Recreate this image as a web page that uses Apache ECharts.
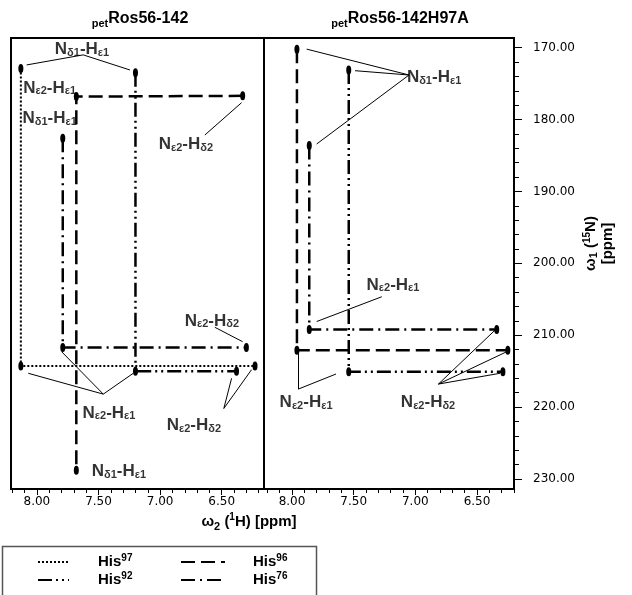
<!DOCTYPE html>
<html>
<head>
<meta charset="utf-8">
<script src="https://cdn.jsdelivr.net/npm/echarts@6/dist/echarts.min.js"></script>
<style>
html,body{margin:0;padding:0;background:#fff;}
#chart{width:632px;height:595px;}
</style>
</head>
<body>
<div id="chart"></div>
<script>
// cross peaks, [w2 (1H), w1 (15N)], in the order they are joined
const his97Left = [[8.13,172.9],[8.13,214.3],[6.23,214.3]]
const his96Left = [[6.33,176.7],[7.68,176.8],[7.68,228.8]]
const his92Left = [[7.20,173.5],[7.20,215.0],[6.38,215.0]]
const his76Left = [[7.79,182.6],[7.79,211.7],[6.30,211.7]]
const his96Right = [[7.96,170.2],[7.96,212.1],[6.25,212.1]]
const his92Right = [[7.54,173.1],[7.54,215.1],[6.29,215.1]]
const his76Right = [[7.86,183.6],[7.86,209.2],[6.34,209.2]]

// tick labels
const xMajorTicks = [8.0,7.5,7.0,6.5]
const xMinorTicks = [8.2,8.1,7.9,7.8,7.7,7.6,7.4,7.3,7.2,7.1,6.9,6.8,6.7,6.6,6.4,6.3,6.2]
const yMajorTicks = [170,180,190,200,210,220,230]
const yMinorTicks = [172,174,176,178,182,184,186,188,192,194,196,198,202,204,206,208,212,214,216,218,222,224,226,228]

// peak assignments
const leftNotes = [
	[7.634,170.2,'Nδ1-Hε1'],
	[7.896,175.6,'Nε2-Hε1'],
	[7.896,179.8,'Nδ1-Hε1'],
	[6.791,183.5,'Nε2-Hδ2'],
	[6.58,208.0,'Nε2-Hδ2'],
	[7.415,220.8,'Nε2-Hε1'],
	[6.726,222.6,'Nε2-Hδ2'],
	[7.334,229.0,'Nδ1-Hε1']
]
const leftLeaders = [
	[[7.624,171.0],[8.083,172.4]],
	[[7.624,171.0],[7.245,173.1]],
	[[6.637,182.15],[6.339,177.65]],
	[[6.556,208.9],[6.331,210.9]],
	[[7.461,218.2],[8.07,215.3]],
	[[7.461,218.2],[7.799,212.3]],
	[[7.461,218.2],[7.218,215.3]],
	[[6.483,220.2],[6.42,216.0]],
	[[6.483,220.2],[6.258,214.8]]
]
const rightNotes = [
	[6.848,174.1,'Nδ1-Hε1'],
	[7.181,203.0,'Nε2-Hε1'],
	[7.886,219.3,'Nε2-Hε1'],
	[6.897,219.3,'Nε2-Hδ2']
]
const rightLeaders = [
	[[7.051,173.8],[7.881,170.2]],
	[[7.051,173.8],[7.489,173.2]],
	[[7.051,173.8],[7.80,183.4]],
	[[7.272,204.65],[7.80,208.1]],
	[[7.949,217.5],[7.949,212.5]],
	[[7.949,217.5],[7.643,215.4]],
	[[6.813,216.8],[6.354,209.3]],
	[[6.813,216.8],[6.259,212.3]],
	[[6.813,216.8],[6.313,215.3]]
]

const dash = {
	His97:[2,2],
	His96:[14,6],
	His92:[14,4,2,4,2,4],
	His76:[14,5,2,5]
}

const font = 'Liberation Sans'
const subRich = {
	s:{fontSize:11,fontWeight:'bold',fontFamily:font,color:'#000',verticalAlign:'bottom',lineHeight:8},
	p:{fontSize:10,fontWeight:'bold',fontFamily:font,color:'#000',verticalAlign:'top',lineHeight:12}
}

function toRich(txt){
	return txt.replace(/([δε]\d)/g,'{s|$1}')
}

function hisLine(name,data,xi,yi){
	return {
		type:'line',
		name:name,
		xAxisIndex:xi,
		yAxisIndex:yi,
		data:data,
		symbol:'circle',
		symbolSize:[5,9],
		itemStyle:{color:'#000'},
		lineStyle:{color:'#000',width:name == 'His97' ? 2 : 2.5,type:dash[name]},
		z:3
	}
}

function notes(data,xi,yi){
	return {
		type:'scatter',
		name:'notes' + xi,
		xAxisIndex:xi,
		yAxisIndex:yi,
		data:data,
		symbolSize:0,
		silent:true,
		label:{
			show:true,
			position:'inside',
			formatter:p => toRich(p.data[2]),
			fontSize:17,
			fontWeight:'bold',
			fontFamily:font,
			color:'#000',
			lineHeight:18,
			rich:subRich
		},
		z:4
	}
}

function leaders(data,xi,yi){
	return {
		type:'lines',
		coordinateSystem:'cartesian2d',
		xAxisIndex:xi,
		yAxisIndex:yi,
		data:data.map(c => ({coords:c})),
		lineStyle:{color:'#000',width:1,opacity:1},
		silent:true,
		z:2
	}
}

function xMain(grid,min,max){
	return {
		gridIndex:grid,
		type:'value',
		min:min,
		max:max,
		inverse:true,
		position:'bottom',
		axisLine:{show:true,lineStyle:{color:'#000',width:2}},
		axisTick:{show:true,length:6,customValues:xMajorTicks,lineStyle:{color:'#000',width:1}},
		axisLabel:{customValues:xMajorTicks,formatter:v => v.toFixed(2),margin:7,fontFamily:'DejaVu Sans',fontSize:12,color:'#000'},
		splitLine:{show:false}
	}
}
function xMinor(grid,min,max){
	return {
		gridIndex:grid,
		type:'value',
		min:min,
		max:max,
		inverse:true,
		position:'bottom',
		axisLine:{show:false},
		axisTick:{show:true,length:4,customValues:xMinorTicks,lineStyle:{color:'#000',width:1}},
		axisLabel:{show:false},
		splitLine:{show:false}
	}
}

const yMin = 168.65
const yMax = 231.4

const legendText = {fontSize:15,fontWeight:'bold',fontFamily:font,color:'#000',lineHeight:18,rich:subRich}

const chart = echarts.init(document.getElementById('chart'),null,{renderer:'canvas'})
chart.setOption({
	animation:false,
	backgroundColor:'#fff',
	title:[
		{text:'{s|pet}Ros56-142',left:140,top:9,textAlign:'center',padding:0,
			textStyle:{fontSize:16,fontWeight:'bold',fontFamily:font,color:'#000',lineHeight:20,rich:subRich}},
		{text:'{s|pet}Ros56-142H97A',left:400,top:9,textAlign:'center',padding:0,
			textStyle:{fontSize:16,fontWeight:'bold',fontFamily:font,color:'#000',lineHeight:20,rich:subRich}},
		{text:'ω{s|2} ({p|1}H) [ppm]',left:249,top:512,textAlign:'center',padding:0,
			textStyle:{fontSize:15,fontWeight:'bold',fontFamily:font,color:'#000',lineHeight:20,rich:subRich}}
	],
	legend:[
		{data:['His97','His92'],orient:'vertical',left:37,top:553,padding:0,itemWidth:31,itemHeight:12,itemGap:0,
			selectedMode:false,itemStyle:{opacity:0},lineStyle:{width:2},
			formatter:n => n.replace(/(\d+)/,'{p|$1}'),
			textStyle:Object.assign({padding:[0,0,0,24]},legendText)},
		{data:['His96','His76'],orient:'vertical',left:180,top:553,padding:0,itemWidth:44,itemHeight:12,itemGap:0,
			selectedMode:false,itemStyle:{opacity:0},lineStyle:{width:2},
			formatter:n => n.replace(/(\d+)/,'{p|$1}'),
			textStyle:Object.assign({padding:[0,0,0,23]},legendText)}
	],
	graphic:[
		{type:'rect',shape:{x:2.5,y:546.5,width:314,height:60},style:{fill:'none',stroke:'#555',lineWidth:1.5},silent:true}
	],
	grid:[
		{left:11,top:38,width:253,height:451,show:true,borderColor:'#000',borderWidth:2},
		{left:264,top:38,width:250,height:451,show:true,borderColor:'#000',borderWidth:2}
	],
	xAxis:[
		xMain(0,6.157,8.21),
		xMain(1,6.2,8.227),
		xMinor(0,6.157,8.21),
		xMinor(1,6.2,8.227)
	],
	yAxis:[
		{gridIndex:0,type:'value',min:yMin,max:yMax,inverse:true,
			axisLine:{show:false},axisTick:{show:false},axisLabel:{show:false},splitLine:{show:false}},
		{gridIndex:1,type:'value',min:yMin,max:yMax,inverse:true,position:'right',
			axisLine:{show:true,lineStyle:{color:'#000',width:2}},
			axisTick:{show:true,length:8,customValues:yMajorTicks,lineStyle:{color:'#000',width:1}},
			axisLabel:{customValues:yMajorTicks,formatter:v => v.toFixed(2),margin:19,fontFamily:'DejaVu Sans',fontSize:12,color:'#000'},
			splitLine:{show:false},
			name:'ω{s|1} ({p|15}N)\n[ppm]',
			nameLocation:'middle',
			nameRotate:90,
			nameGap:68,
			nameTextStyle:{fontSize:15,fontWeight:'bold',fontFamily:font,color:'#000',lineHeight:17,padding:[0,0,0,40],rich:subRich}},
		{gridIndex:1,type:'value',min:yMin,max:yMax,inverse:true,position:'right',
			axisLine:{show:false},
			axisTick:{show:true,length:5,customValues:yMinorTicks,lineStyle:{color:'#000',width:1}},
			axisLabel:{show:false},splitLine:{show:false}}
	],
	series:[
		hisLine('His97',his97Left,0,0),
		hisLine('His96',his96Left,0,0),
		hisLine('His92',his92Left,0,0),
		hisLine('His76',his76Left,0,0),
		hisLine('His96',his96Right,1,1),
		hisLine('His92',his92Right,1,1),
		hisLine('His76',his76Right,1,1),
		leaders(leftLeaders,0,0),
		leaders(rightLeaders,1,1),
		notes(leftNotes,0,0),
		notes(rightNotes,1,1)
	]
})
</script>
</body>
</html>
